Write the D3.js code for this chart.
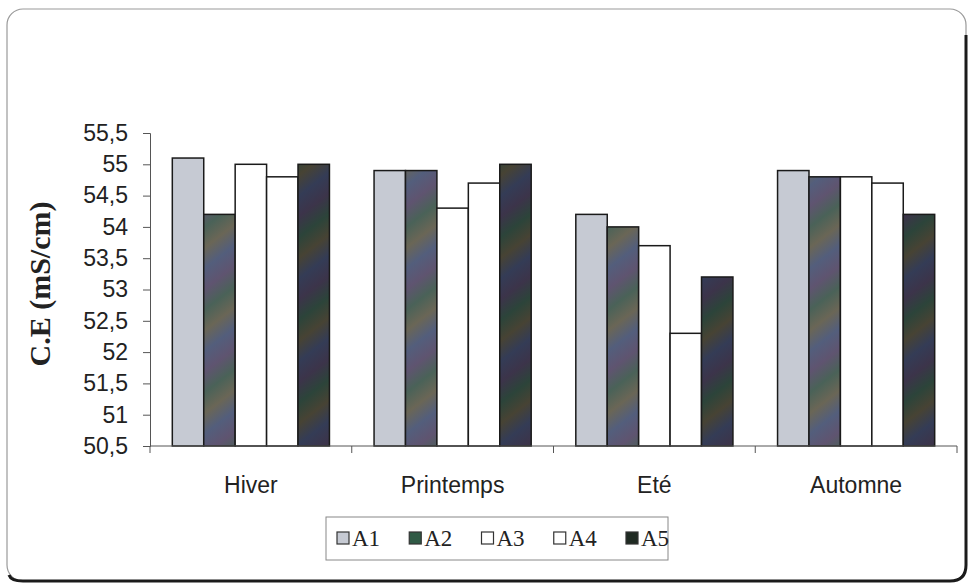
<!DOCTYPE html>
<html>
<head>
<meta charset="utf-8">
<script src="https://cdn.jsdelivr.net/npm/d3@7/dist/d3.min.js"></script>
<style>
  html, body { margin: 0; padding: 0; background: #fff; }
  svg { display: block; }
</style>
</head>
<body>
<svg id="chart" width="971" height="588"></svg>
<script>
// Conductivité électrique par saison et par station
const categories = ["Hiver", "Printemps", "Eté", "Automne"];
const seriesNames = ["A1", "A2", "A3", "A4", "A5"];
const A1 = [55.1, 54.9, 54.2, 54.9];
const A2 = [54.2, 54.9, 54.0, 54.8];
const A3 = [55.0, 54.3, 53.7, 54.8];
const A4 = [54.8, 54.7, 52.3, 54.7];
const A5 = [55.0, 55.0, 53.2, 54.2];
const yTicks = [50.5, 51, 51.5, 52, 52.5, 53, 53.5, 54, 54.5, 55, 55.5];
const yTitle = "C.E (mS/cm)";

const seriesValues = { A1, A2, A3, A4, A5 };

const svg = d3.select("#chart");
const defs = svg.append("defs");

// Soft diagonal banded fills for the dark series
function bandedFill(id, colors) {
  const g = defs.append("linearGradient")
    .attr("id", id)
    .attr("gradientUnits", "userSpaceOnUse")
    .attr("spreadMethod", "repeat")
    .attr("x1", 0).attr("y1", 0).attr("x2", 40).attr("y2", 52);
  colors.forEach((c, i) => {
    g.append("stop").attr("offset", i / (colors.length - 1)).attr("stop-color", c);
  });
}
bandedFill("fillA2", ["#5f5470", "#4a6258", "#6a6656", "#535e7c", "#5f5470"]);
bandedFill("fillA5", ["#3c344a", "#2c443a", "#474334", "#343c56", "#3c344a"]);

const fills = { A1: "#c6cad3", A2: "url(#fillA2)", A3: "#ffffff", A4: "#ffffff", A5: "url(#fillA5)" };
const swatch = { A1: "#c6cad3", A2: "#2f5a45", A3: "#ffffff", A4: "#ffffff", A5: "#1f2a22" };

// Frame: thin light top/left, heavier shadowed bottom/right
const fx0 = 7, fy0 = 9, fx1 = 966, fy1 = 581, r = 16;
svg.append("rect")
  .attr("x", fx0).attr("y", fy0).attr("width", fx1 - fx0).attr("height", fy1 - fy0)
  .attr("rx", r).attr("ry", r)
  .attr("fill", "#fff").attr("stroke", "#9a9a9a").attr("stroke-width", 1.2);
svg.append("path")
  .attr("d", `M${fx1},${fy0 + r + 10} L${fx1},${fy1 - r} Q${fx1},${fy1} ${fx1 - r},${fy1} L${fx0 + r},${fy1} Q${fx0 + 4},${fy1} ${fx0 + 2},${fy1 - 6}`)
  .attr("fill", "none").attr("stroke", "#1b1b1b").attr("stroke-width", 3);

// Scales
const x0 = d3.scaleBand().domain(categories).range([150, 957]).paddingInner(0).paddingOuter(0);
const x1 = d3.scaleBand().domain(seriesNames).range([0, x0.bandwidth()]).paddingInner(0).paddingOuter(0.71);
const y = d3.scaleLinear().domain([50.5, 55.5]).range([446, 133]);

const fmt = v => String(v).replace(".", ",");

// Y axis
const yAxis = svg.append("g")
  .attr("transform", "translate(150,0)")
  .call(d3.axisLeft(y).tickValues(yTicks).tickFormat(fmt).tickSize(7).tickPadding(15));
yAxis.select(".domain").attr("stroke", "#555").attr("stroke-width", 1);
yAxis.selectAll(".tick line").attr("stroke", "#555");
yAxis.selectAll(".tick text")
  .attr("font-family", "Arial, 'Liberation Sans', sans-serif")
  .attr("font-size", 23).attr("fill", "#222");

// Bars
const groups = svg.append("g").selectAll("g")
  .data(categories)
  .join("g")
  .attr("transform", d => `translate(${x0(d)},0)`);

groups.selectAll("rect")
  .data((c, i) => seriesNames.map(s => ({ s, v: seriesValues[s][i] })))
  .join("rect")
  .attr("x", d => x1(d.s))
  .attr("width", x1.bandwidth())
  .attr("y", d => y(d.v))
  .attr("height", d => y(50.5) - y(d.v))
  .attr("fill", d => fills[d.s])
  .attr("stroke", "#1a1a1a")
  .attr("stroke-width", 1.5);

// X axis with ticks between categories
const xAxisG = svg.append("g").attr("transform", `translate(0,${y(50.5)})`);
xAxisG.append("line")
  .attr("x1", 150).attr("x2", 957).attr("y1", 0).attr("y2", 0)
  .attr("stroke", "#555").attr("stroke-width", 1);
const bounds = categories.map(c => x0(c)).concat([x0(categories[categories.length - 1]) + x0.bandwidth()]);
xAxisG.selectAll("line.tk")
  .data(bounds)
  .join("line")
  .attr("class", "tk")
  .attr("x1", d => d).attr("x2", d => d)
  .attr("y1", 0).attr("y2", 7)
  .attr("stroke", "#555");
xAxisG.selectAll("text")
  .data(categories)
  .join("text")
  .attr("x", d => x0(d) + x0.bandwidth() / 2)
  .attr("y", 47)
  .attr("text-anchor", "middle")
  .attr("font-family", "Arial, 'Liberation Sans', sans-serif")
  .attr("font-size", 23)
  .attr("fill", "#222")
  .text(d => d);

// Y title
svg.append("text")
  .attr("transform", "translate(50,284) rotate(-90)")
  .attr("text-anchor", "middle")
  .attr("font-family", "'Times New Roman', 'Liberation Serif', serif")
  .attr("font-weight", "bold")
  .attr("font-size", 30)
  .attr("fill", "#222")
  .text(yTitle);

// Legend
const lg = svg.append("g");
lg.append("rect")
  .attr("x", 326).attr("y", 517).attr("width", 342).attr("height", 43)
  .attr("fill", "#fff").attr("stroke", "#888").attr("stroke-width", 1);
const legendX = d3.scalePoint().domain(seriesNames).range([337, 626]);
const items = lg.selectAll("g.item")
  .data(seriesNames)
  .join("g")
  .attr("class", "item")
  .attr("transform", d => `translate(${legendX(d)},538)`);
items.append("rect")
  .attr("x", 0).attr("y", -6).attr("width", 12).attr("height", 12)
  .attr("fill", d => swatch[d]).attr("stroke", "#333").attr("stroke-width", 1.2);
items.append("text")
  .attr("x", 15).attr("y", 8)
  .attr("font-family", "'Times New Roman', 'Liberation Serif', serif")
  .attr("font-size", 23)
  .attr("fill", "#222")
  .text(d => d);
</script>
</body>
</html>
